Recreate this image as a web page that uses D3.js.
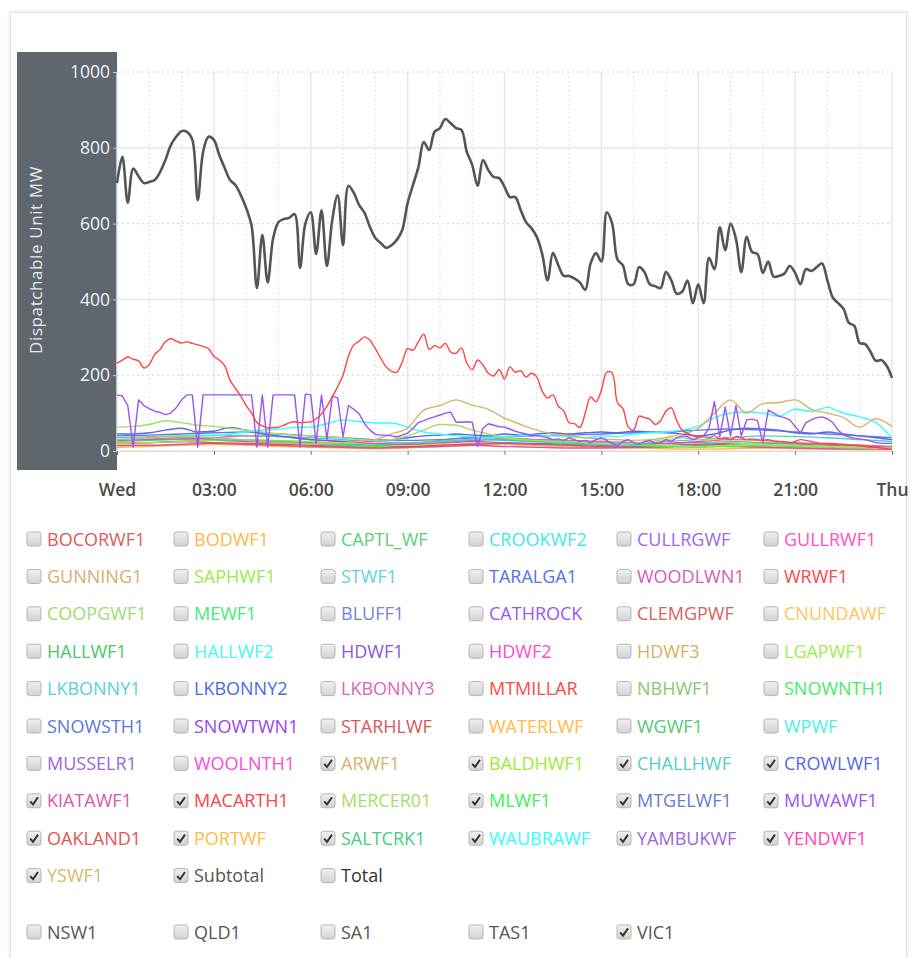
<!DOCTYPE html>
<html>
<head>
<meta charset="utf-8">
<script src="https://cdn.jsdelivr.net/npm/d3@7"></script>
<style>
body { margin: 0; background: #fff; font-family: "Open Sans", sans-serif; }
.card { position: absolute; left: 10px; top: 12px; width: 895px; height: 1000px;
        border: 1px solid #e2e2e2; box-shadow: 0 0 4px rgba(0,0,0,0.12); background: #fff; }
#chart { position: absolute; left: 0; top: 0; }
</style>
</head>
<body>
<div class="card"></div>
<svg id="chart" width="915" height="958"></svg>
<script>
// legend entries, row by row (6 columns)
var unitNames = [
  "BOCORWF1","BODWF1","CAPTL_WF","CROOKWF2","CULLRGWF","GULLRWF1",
  "GUNNING1","SAPHWF1","STWF1","TARALGA1","WOODLWN1","WRWF1",
  "COOPGWF1","MEWF1","BLUFF1","CATHROCK","CLEMGPWF","CNUNDAWF",
  "HALLWF1","HALLWF2","HDWF1","HDWF2","HDWF3","LGAPWF1",
  "LKBONNY1","LKBONNY2","LKBONNY3","MTMILLAR","NBHWF1","SNOWNTH1",
  "SNOWSTH1","SNOWTWN1","STARHLWF","WATERLWF","WGWF1","WPWF",
  "MUSSELR1","WOOLNTH1","ARWF1","BALDHWF1","CHALLHWF","CROWLWF1",
  "KIATAWF1","MACARTH1","MERCER01","MLWF1","MTGELWF1","MUWAWF1",
  "OAKLAND1","PORTWF","SALTCRK1","WAUBRAWF","YAMBUKWF","YENDWF1",
  "YSWF1","Subtotal","Total"
];
var unitColors = [
  "#e0585e","#ffb547","#5ccf70","#3ee8ea","#9b68e0","#ff4fc8",
  "#d2b06c","#96ec48","#5ed3d6","#5173ea","#d45cb5","#ff4646",
  "#9edb6e","#45e878","#7882d8","#9a56ee","#d6625e","#ffc45c",
  "#45c86a","#44fbee","#8c56dc","#ff48cc","#d6b062","#9cf04e",
  "#58cfd8","#4769ee","#dd66b2","#ff4a3e","#86c96a","#45ec68",
  "#5a78dc","#9944ee","#e05454","#ffbb44","#55c878","#48eef0",
  "#9a66dc","#ff48da","#d4b36a","#99ee33","#55cccc","#5566ee",
  "#dd55aa","#ff4444","#a8dd66","#44ee55","#6677dd","#9955ee",
  "#dd5555","#ffbb44","#44cc88","#33ffff","#9966dd","#ff44bb",
  "#d9b86a","#555555","#333333"
];
var checkedUnits = ["ARWF1","BALDHWF1","CHALLHWF","CROWLWF1","KIATAWF1","MACARTH1",
  "MERCER01","MLWF1","MTGELWF1","MUWAWF1","OAKLAND1","PORTWF","SALTCRK1",
  "WAUBRAWF","YAMBUKWF","YENDWF1","YSWF1","Subtotal"];
var regionNames = ["NSW1","QLD1","SA1","TAS1","VIC1"];
var checkedRegions = ["VIC1"];
var yTickValues = [0, 200, 400, 600, 800, 1000];

// values spread evenly from Wed 00:00 to Thu 00:00 (MW)
var Subtotal = [707,776,655,745,725,707,710,715,736,768,807,829,844,842,821,662,789,829,821,781,
  747,715,702,675,641,595,430,570,445,560,604,612,615,625,483,600,630,520,635,488,
  610,675,543,700,681,649,628,591,562,549,536,543,557,583,654,702,749,815,794,842,
  852,876,865,852,847,789,755,700,768,741,723,720,697,670,670,636,604,588,565,520,
  450,522,490,462,462,455,445,425,495,522,500,630,600,505,490,440,440,485,472,440,
  435,430,472,450,415,420,450,390,440,390,510,480,590,530,600,560,472,565,525,520,
  470,500,460,462,468,488,470,440,480,475,485,495,450,405,390,375,338,330,285,282,
  262,238,240,225,193];
var MUWAWF1 = [148,145,120,10,135,120,112,105,102,96,100,114,135,148,148,10,148,148,148,148,
  148,148,148,148,148,148,10,148,10,148,148,148,148,148,10,150,148,20,148,30,
  145,140,37,120,110,98,72,55,44,42,42,40,37,42,47,60,75,80,86,90,
  95,100,103,76,76,77,76,12,60,72,68,64,63,58,52,48,45,40,42,38,
  35,30,32,28,35,30,25,28,22,30,35,28,20,15,25,30,22,18,25,28,
  20,22,30,25,35,40,38,30,35,40,60,130,37,116,40,120,40,82,84,80,
  22,108,100,92,88,82,65,47,75,82,88,90,85,75,55,42,37,34,32,30,
  26,22,20,20,20];
var MACARTH1 = [232,240,248,242,238,219,228,255,268,288,296,290,285,288,284,280,276,270,250,240,
  225,187,165,145,120,100,75,66,61,62,63,68,74,77,75,76,77,85,98,118,
  143,170,200,250,280,290,301,292,270,245,222,210,208,235,270,266,288,308,268,278,
  272,284,261,258,272,232,214,240,227,205,198,215,190,222,208,212,195,205,195,158,
  140,148,118,106,75,72,62,100,143,130,160,208,206,127,112,63,55,92,88,84,
  70,80,105,114,80,55,47,40,37,38,35,40,32,35,30,38,35,30,32,30,
  28,30,26,25,24,22,25,30,28,25,22,20,20,20,18,18,16,15,14,12,
  10,10,8,6,5];
var ARWF1 = [30,32,35,38,40,38,35,32,28,25,22,20,18,20,22,25,30,45,61,108,
  120,135,121,110,87,70,55,45,40,35,32,30,28,30,35,45,60,100,135,100,
  125,128,135,110,100,88,63,85,65];
var WAUBRAWF = [30,32,35,38,40,42,40,45,50,55,58,62,63,72,82,78,74,74,63,50,
  45,40,38,35,38,40,42,40,38,35,40,38,45,48,50,55,65,88,100,103,
  100,92,110,105,115,100,90,75,34];
var MERCER01 = [63,65,70,80,75,68,65,60,55,50,45,42,40,38,35,30,28,30,40,55,
  70,68,55,45,35,30,28,25,25,22,20,18,20,25,30,35,30,25,22,20,
  18,15,15,12,12,10,10,8,8];
var CROWLWF1 = [45,45,48,55,60,50,52,62,55,45,40,35,30,28,25,25,28,30,35,40,
  42,45,42,40,45,42,45,48,45,48,50,48,52,50,48,45,40,45,55,60,
  58,55,48,45,50,45,40,35,30];
var BALDHWF1 = [20,22,25,28,30,28,25,20,18,15,20,30,35,30,25,20,18,15,12,15,18,15,12,10,8];
var CHALLHWF = [35,38,40,42,40,38,35,30,25,22,25,30,32,28,25,22,20,25,30,35,40,38,35,30,25];
var KIATAWF1 = [15,15,18,20,18,15,12,10,8,10,12,15,12,10,8,8,10,12,15,12,10,8,6,5,5];
var MLWF1 = [25,28,30,32,30,25,20,15,12,18,28,35,30,25,20,18,15,12,10,12,15,12,10,8,8];
var MTGELWF1 = [40,42,45,48,50,45,40,35,30,28,30,35,38,40,42,45,48,50,55,58,55,50,45,40,35];
var OAKLAND1 = [20,22,25,22,20,18,15,12,10,12,15,18,20,18,15,12,10,12,15,18,20,18,15,12,10];
var PORTWF = [10,12,15,18,15,12,10,8,6,8,12,15,18,15,12,10,8,6,5,6,8,6,5,4,3];
var SALTCRK1 = [30,32,35,30,28,25,22,18,15,20,25,30,28,25,22,20,18,20,22,25,22,20,18,15,12];
var YAMBUKWF = [20,22,25,28,25,22,18,15,12,15,20,25,22,20,18,15,12,15,18,20,18,15,12,10,8];
var YENDWF1 = [28,30,32,35,40,38,30,25,20,18,22,28,32,30,28,25,22,20,25,30,28,22,18,15,10];
var YSWF1 = [12,14,16,18,16,14,12,10,8,10,15,20,18,15,12,10,8,10,12,14,12,10,8,6,5];

var series = [
  {name: "YSWF1", values: YSWF1}, {name: "PORTWF", values: PORTWF},
  {name: "KIATAWF1", values: KIATAWF1}, {name: "OAKLAND1", values: OAKLAND1},
  {name: "YAMBUKWF", values: YAMBUKWF}, {name: "MLWF1", values: MLWF1},
  {name: "BALDHWF1", values: BALDHWF1}, {name: "SALTCRK1", values: SALTCRK1},
  {name: "YENDWF1", values: YENDWF1}, {name: "CHALLHWF", values: CHALLHWF},
  {name: "MTGELWF1", values: MTGELWF1}, {name: "CROWLWF1", values: CROWLWF1},
  {name: "MERCER01", values: MERCER01}, {name: "WAUBRAWF", values: WAUBRAWF},
  {name: "ARWF1", values: ARWF1}, {name: "MUWAWF1", values: MUWAWF1, curve: d3.curveLinear},
  {name: "MACARTH1", values: MACARTH1, curve: d3.curveCatmullRom.alpha(0.5)},
  {name: "Subtotal", values: Subtotal, curve: d3.curveCatmullRom.alpha(0.5)}
];

var svg = d3.select("#chart");
var m = {left: 117, right: 892, top: 72, bottom: 451};
var t0 = new Date(2016, 5, 1, 0, 0), t1 = new Date(2016, 5, 2, 0, 0);

var x = d3.scaleTime().domain([t0, t1]).range([m.left, m.right]);
var y = d3.scaleLinear().domain([0, 1000]).range([m.bottom, m.top]);

function colorOf(name) { return unitColors[unitNames.indexOf(name)]; }

// dark y axis panel
svg.append("rect").attr("x", 17).attr("y", 52).attr("width", 100).attr("height", 418)
  .attr("fill", "#5f666e");

// grid
var grid = svg.append("g");
grid.selectAll("line.v").data(d3.timeHour.range(t0, d3.timeHour.offset(t1, 1)))
  .enter().append("line")
  .attr("x1", function(d) { return x(d); }).attr("x2", function(d) { return x(d); })
  .attr("y1", m.top).attr("y2", m.bottom)
  .attr("stroke", function(d) { return d.getHours() % 3 === 0 ? "#e4e7ea" : "#d8d8d8"; })
  .attr("stroke-width", function(d) { return d.getHours() % 3 === 0 ? 1.5 : 1; })
  .attr("stroke-dasharray", function(d) { return d.getHours() % 3 === 0 ? null : "1.5,3"; });
grid.selectAll("line.h").data(yTickValues)
  .enter().append("line")
  .attr("x1", m.left).attr("x2", m.right)
  .attr("y1", function(d) { return y(d); }).attr("y2", function(d) { return y(d); })
  .attr("stroke", function(d) { return d % 400 === 0 ? "#e4e7ea" : "#d4d4d4"; })
  .attr("stroke-width", function(d) { return d % 400 === 0 ? 1.5 : 1; })
  .attr("stroke-dasharray", function(d) { return d % 400 === 0 ? null : "2,3"; });

// y axis
var yAxis = svg.append("g").attr("transform", "translate(" + m.left + ",0)")
  .call(d3.axisLeft(y).tickValues(yTickValues).tickFormat(d3.format("d")).tickSize(4).tickPadding(3));
yAxis.select(".domain").remove();
yAxis.selectAll("line").attr("stroke", "#c8ccd0");
yAxis.selectAll("text").attr("fill", "#f0f2f4").style("font-size", "17.5px")
  .style("font-family", "'Open Sans', sans-serif");

svg.append("text")
  .attr("transform", "translate(42,260) rotate(-90)")
  .attr("text-anchor", "middle")
  .attr("fill", "#e6e8ea")
  .style("font-size", "17px")
  .style("letter-spacing", "0.6px")
  .text("Dispatchable Unit MW");

// x axis
var xAxis = svg.append("g").attr("transform", "translate(0," + m.bottom + ")")
  .call(d3.axisBottom(x).ticks(d3.timeHour.every(3)).tickSize(4).tickPadding(29)
    .tickFormat(function(d) { return d.getHours() === 0 ? d3.timeFormat("%a")(d) : d3.timeFormat("%H:%M")(d); }));
xAxis.select(".domain").attr("stroke", "#d8dcdf");
xAxis.selectAll("line").attr("stroke", "#777");
xAxis.selectAll("text").attr("fill", "#4a4a4a").style("font-size", "17.5px")
  .style("font-weight", "600").style("font-family", "'Open Sans', sans-serif");

// lines
var plot = svg.append("g");
series.forEach(function(s) {
  var n = s.values.length;
  var pts = s.values.map(function(v, i) {
    return [x(new Date(+t0 + (t1 - t0) * i / (n - 1))), y(v)];
  });
  var line = d3.line().curve(s.curve || d3.curveMonotoneX);
  plot.append("path")
    .attr("d", line(pts))
    .attr("fill", "none")
    .attr("stroke", colorOf(s.name))
    .attr("stroke-width", s.name === "Subtotal" ? 2.6 : 1.4)
    .attr("stroke-linejoin", "round");
});

// legend
var colX = [27, 174, 321, 469, 617, 764];
var legend = svg.append("g");
var defs = svg.append("defs").append("linearGradient").attr("id", "cbgrad")
  .attr("x1", 0).attr("y1", 0).attr("x2", 0).attr("y2", 1);
defs.append("stop").attr("offset", "0").attr("stop-color", "#f0f0f0");
defs.append("stop").attr("offset", "1").attr("stop-color", "#d2d2d2");

function checkbox(g, on) {
  g.append("rect").attr("x", 0).attr("y", -7).attr("width", 14).attr("height", 14)
    .attr("rx", 2.5).attr("fill", "url(#cbgrad)").attr("stroke", "#b4b4b4");
  if (on) {
    g.append("path").attr("d", "M3.2,0.5 L6,3.6 L11,-3.6")
      .attr("fill", "none").attr("stroke", "#333").attr("stroke-width", 2);
  }
}

unitNames.forEach(function(name, i) {
  var g = legend.append("g")
    .attr("transform", "translate(" + colX[i % 6] + "," + (539 + Math.floor(i / 6) * 37.4) + ")");
  checkbox(g, checkedUnits.indexOf(name) >= 0);
  g.append("text").attr("x", 20).attr("y", 6.5)
    .attr("fill", unitColors[i])
    .style("font-size", "18px")
    .text(name);
});
regionNames.forEach(function(name, i) {
  var g = legend.append("g").attr("transform", "translate(" + colX[i] + ",932)");
  checkbox(g, checkedRegions.indexOf(name) >= 0);
  g.append("text").attr("x", 20).attr("y", 6.5)
    .attr("fill", "#555")
    .style("font-size", "18px")
    .text(name);
});
</script>
</body>
</html>
